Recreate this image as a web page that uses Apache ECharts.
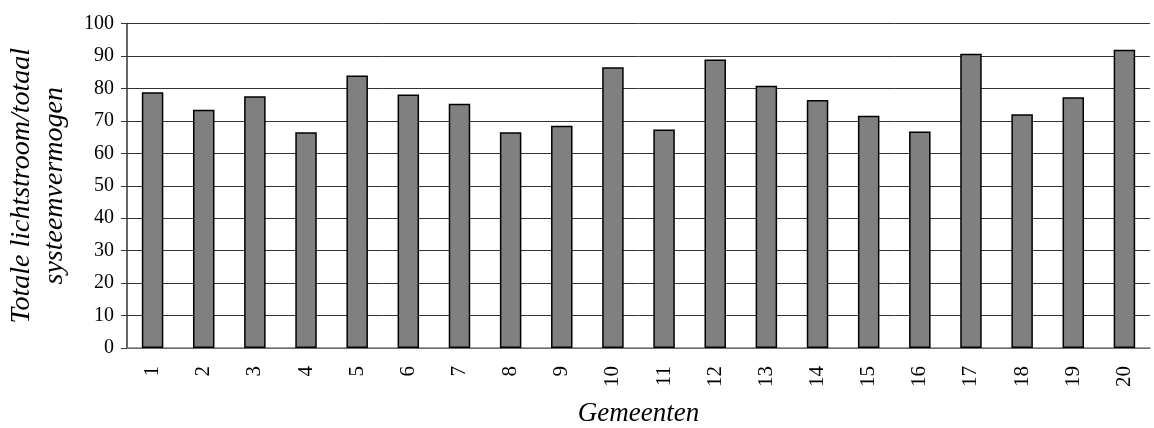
<!DOCTYPE html>
<html><head><meta charset="utf-8">
<script src="https://cdn.jsdelivr.net/npm/echarts@6/dist/echarts.min.js"></script>
<style>html,body{margin:0;padding:0;background:#fff}#c{width:1154px;height:428px}</style>
</head><body><div id="c"></div>
<script>
const categories = ['1','2','3','4','5','6','7','8','9','10','11','12','13','14','15','16','17','18','19','20'];
const values = [78.8,73.4,77.6,66.5,84.0,78.1,75.3,66.5,68.5,86.5,67.3,88.9,80.8,76.4,71.6,66.7,90.7,72.0,77.3,91.9];
const yTitle = 'Totale lichtstroom/totaal\nsysteemvermogen';
const xTitle = 'Gemeenten';
const font = '"Liberation Serif","Times New Roman",serif';
const chart = echarts.init(document.getElementById('c'), null, {renderer:'canvas'});
chart.setOption({
  animation:false,
  grid:{left:127,right:4,top:23.5,bottom:80,containLabel:false,outerBoundsMode:'none'},
  xAxis:{type:'category',data:categories,
    name:xTitle,nameLocation:'middle',nameGap:52,
    nameTextStyle:{fontFamily:font,fontStyle:'italic',fontSize:27,color:'#000',verticalAlign:'top'},
    axisLine:{lineStyle:{color:'#808080',width:1.5}},axisTick:{show:false},
    axisLabel:{rotate:90,fontFamily:font,fontSize:21,color:'#000',margin:18}},
  yAxis:{type:'value',min:0,max:100,interval:10,
    name:yTitle,nameLocation:'middle',nameGap:56,
    nameTextStyle:{fontFamily:font,fontStyle:'italic',fontSize:28,color:'#000',lineHeight:33,align:'center'},
    axisLine:{show:true,lineStyle:{color:'#333',width:1.5}},
    axisTick:{show:true,length:6,lineStyle:{color:'#333'}},
    axisLabel:{fontFamily:font,fontSize:20,color:'#000',margin:13},
    splitLine:{lineStyle:{color:'#333',width:1}}},
  series:[{type:'bar',data:values,barCategoryGap:'58%',
    itemStyle:{color:'#808080',borderColor:'#000',borderWidth:1.5}}]
});
</script></body></html>
